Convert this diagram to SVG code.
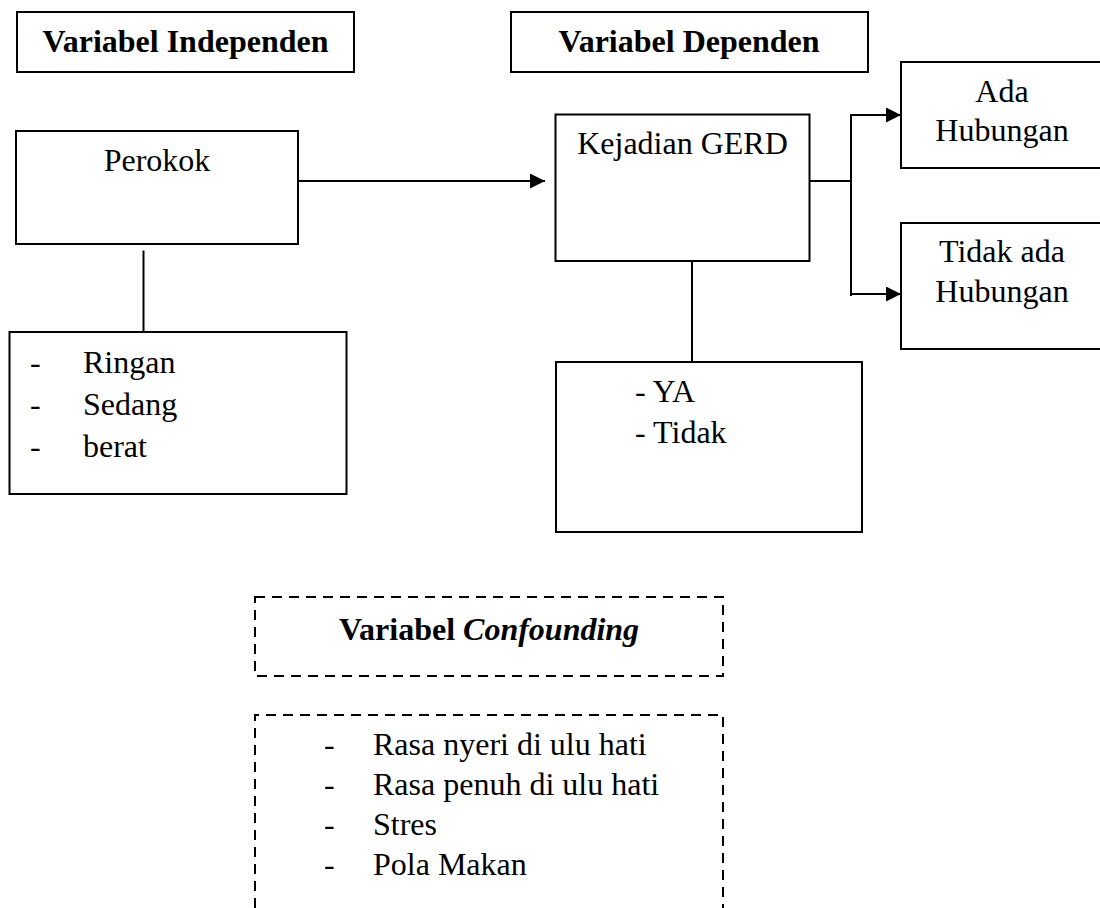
<svg xmlns="http://www.w3.org/2000/svg" width="1100" height="908" viewBox="0 0 1100 908">
<style>
.box{fill:#fff;stroke:#000;stroke-width:2}
.dash{fill:none;stroke:#000;stroke-width:2;stroke-dasharray:10 7}
.ln{fill:none;stroke:#000;stroke-width:2}
text{font-family:"Liberation Serif","Times New Roman",serif;font-size:32px;fill:#000}
.b{font-weight:bold}
.c{text-anchor:middle}
</style>
<defs>
<marker id="ah" markerUnits="userSpaceOnUse" markerWidth="15" markerHeight="15" refX="15" refY="7.5" orient="auto">
<path d="M0,0 L15,7.5 L0,15 z" fill="#000"/>
</marker>
</defs>
<rect width="1100" height="908" fill="#fff"/>
<g id="connectors">
<line class="ln" x1="298" y1="181" x2="545" y2="181" marker-end="url(#ah)"/>
<line class="ln" x1="810" y1="181" x2="851" y2="181"/>
<line class="ln" x1="851" y1="114" x2="851" y2="296"/>
<line class="ln" x1="850" y1="115" x2="901" y2="115" marker-end="url(#ah)"/>
<line class="ln" x1="850" y1="294" x2="901" y2="294" marker-end="url(#ah)"/>
<line class="ln" x1="692" y1="261" x2="692" y2="362"/>
<line class="ln" x1="143.5" y1="250.5" x2="143.5" y2="332"/>
</g>
<g id="independen">
<rect class="box" x="17" y="12" width="337" height="60"/>
<text class="b c" x="185.5" y="52">Variabel Independen</text>
</g>
<g id="dependen">
<rect class="box" x="511" y="12" width="357" height="60"/>
<text class="b c" x="689" y="52">Variabel Dependen</text>
</g>
<g id="perokok">
<rect class="box" x="16" y="131" width="282" height="113"/>
<text class="c" x="157" y="171">Perokok</text>
</g>
<g id="kategori">
<rect class="box" x="9.5" y="332" width="337" height="162"/>
<text x="30" y="373">-</text><text x="83" y="373">Ringan</text>
<text x="30" y="415">-</text><text x="83" y="415">Sedang</text>
<text x="30" y="457">-</text><text x="83" y="457">berat</text>
</g>
<g id="gerd">
<rect class="box" x="555.5" y="114.5" width="254" height="146.5"/>
<text class="c" x="682.5" y="154">Kejadian GERD</text>
</g>
<g id="ya">
<rect class="box" x="556" y="362" width="306" height="170"/>
<text x="635" y="402">- YA</text>
<text x="635" y="443">- Tidak</text>
</g>
<g id="ada">
<rect class="box" x="901" y="62" width="210" height="106"/>
<text class="c" x="1002" y="102">Ada</text>
<text class="c" x="1002" y="141">Hubungan</text>
</g>
<g id="tidak">
<rect class="box" x="901" y="223" width="210" height="126"/>
<text class="c" x="1002" y="262">Tidak ada</text>
<text class="c" x="1002" y="302">Hubungan</text>
</g>
<g id="confounding">
<rect class="dash" x="255" y="597" width="468" height="79"/>
<text class="b c" x="489" y="640">Variabel <tspan font-style="italic">Confounding</tspan></text>
</g>
<g id="confounding-list">
<path class="dash" d="M255,908 V715 H723 V908"/>
<text x="324" y="755">-</text><text x="373" y="755">Rasa nyeri di ulu hati</text>
<text x="324" y="795">-</text><text x="373" y="795">Rasa penuh di ulu hati</text>
<text x="324" y="835">-</text><text x="373" y="835">Stres</text>
<text x="324" y="875">-</text><text x="373" y="875">Pola Makan</text>
</g>
</svg>
